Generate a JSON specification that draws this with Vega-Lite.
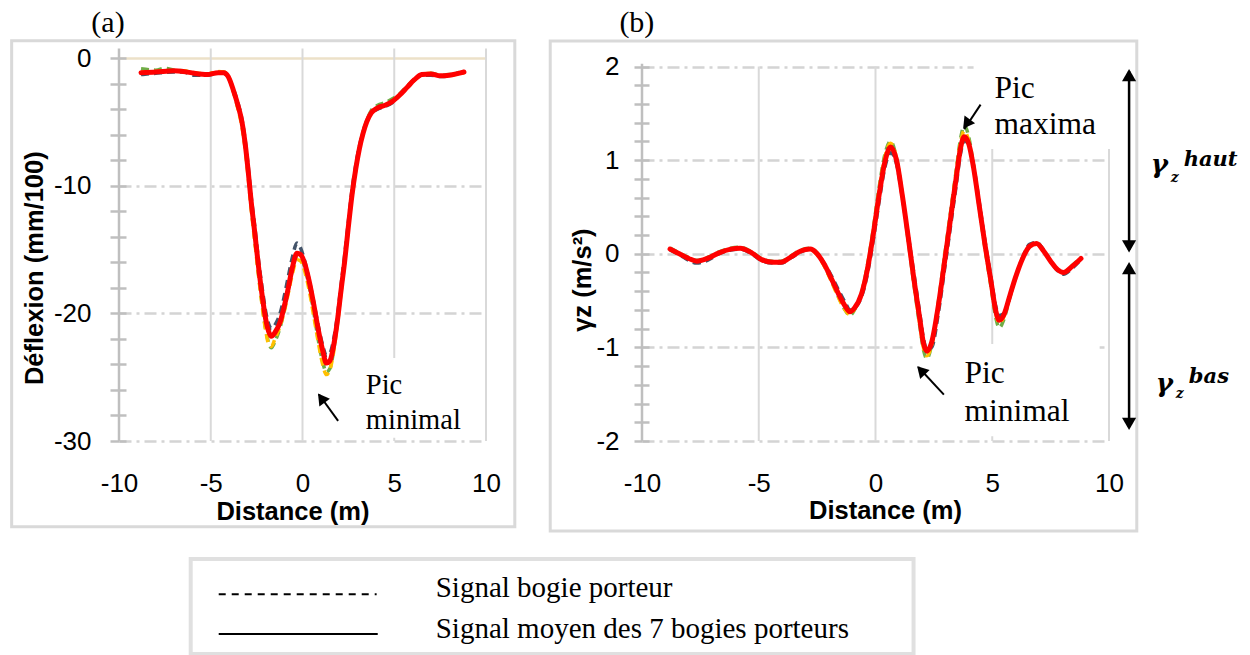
{
  "$schema": "https://vega.github.io/schema/vega-lite/v6.json",
  "background": "white",
  "padding": {"left": 10, "top": 8, "right": 5, "bottom": 0},
  "bounds": "flush",
  "align": "each",
  "columns": 2,
  "spacing": {"row": 118, "column": 156},
  "config": {"view": {"stroke": null}, "font": "Liberation Sans"},
  "datasets": {
    "a": [
      {"s":"n","x":-8.8,"y":-1.3},{"s":"n","x":-8.0,"y":-1.2},{"s":"n","x":-7.0,"y":-1.1},{"s":"n","x":-6.5,"y":-1.1},{"s":"n","x":-5.9,"y":-1.35},{"s":"n","x":-5.2,"y":-1.35},{"s":"n","x":-4.6,"y":-1.2},{"s":"n","x":-4.3,"y":-1.2},{"s":"n","x":-4.05,"y":-1.5},{"s":"n","x":-3.75,"y":-2.5},{"s":"n","x":-3.5,"y":-3.6},{"s":"n","x":-3.3,"y":-4.8},{"s":"n","x":-3.1,"y":-6.7},{"s":"n","x":-2.95,"y":-8.6},{"s":"n","x":-2.8,"y":-10.8},{"s":"n","x":-2.6,"y":-13.2},{"s":"n","x":-2.4,"y":-15.8},{"s":"n","x":-2.2,"y":-18.0},{"s":"n","x":-2.0,"y":-19.9},{"s":"n","x":-1.85,"y":-20.8},{"s":"n","x":-1.7,"y":-21.2},{"s":"n","x":-1.5,"y":-20.9},{"s":"n","x":-1.2,"y":-19.9},{"s":"n","x":-1.0,"y":-18.7},{"s":"n","x":-0.8,"y":-17.3},{"s":"n","x":-0.55,"y":-15.6},{"s":"n","x":-0.3,"y":-14.5},{"s":"n","x":-0.1,"y":-14.9},{"s":"n","x":0.1,"y":-15.8},{"s":"n","x":0.35,"y":-17.3},{"s":"n","x":0.6,"y":-19.0},{"s":"n","x":0.85,"y":-20.9},{"s":"n","x":1.1,"y":-22.5},{"s":"n","x":1.3,"y":-23.3},{"s":"n","x":1.5,"y":-23.1},{"s":"n","x":1.7,"y":-22.0},{"s":"n","x":1.9,"y":-20.2},{"s":"n","x":2.1,"y":-17.8},{"s":"n","x":2.3,"y":-15.4},{"s":"n","x":2.5,"y":-12.8},{"s":"n","x":2.7,"y":-10.3},{"s":"n","x":2.9,"y":-8.4},{"s":"n","x":3.1,"y":-6.9},{"s":"n","x":3.3,"y":-5.8},{"s":"n","x":3.5,"y":-4.9},{"s":"n","x":3.75,"y":-4.3},{"s":"n","x":4.1,"y":-4.0},{"s":"n","x":4.5,"y":-3.8},{"s":"n","x":4.9,"y":-3.5},{"s":"n","x":5.3,"y":-2.9},{"s":"n","x":5.7,"y":-2.3},{"s":"n","x":6.1,"y":-1.7},{"s":"n","x":6.5,"y":-1.35},{"s":"n","x":7.0,"y":-1.35},{"s":"n","x":7.5,"y":-1.45},{"s":"n","x":8.0,"y":-1.4},{"s":"n","x":8.5,"y":-1.15},{"s":"n","x":8.8,"y":-1.0},
      {"s":"g","x":-8.8,"y":-0.85},{"s":"g","x":-8.0,"y":-0.95},{"s":"g","x":-7.5,"y":-0.8},{"s":"g","x":-7.0,"y":-0.95},{"s":"g","x":-6.5,"y":-1.0},{"s":"g","x":-5.9,"y":-1.2},{"s":"g","x":-5.2,"y":-1.25},{"s":"g","x":-4.6,"y":-1.1},{"s":"g","x":-4.3,"y":-1.1},{"s":"g","x":-4.05,"y":-1.45},{"s":"g","x":-3.75,"y":-2.7},{"s":"g","x":-3.5,"y":-4.0},{"s":"g","x":-3.3,"y":-5.2},{"s":"g","x":-3.1,"y":-7.3},{"s":"g","x":-2.95,"y":-9.3},{"s":"g","x":-2.8,"y":-11.6},{"s":"g","x":-2.6,"y":-14.2},{"s":"g","x":-2.4,"y":-16.9},{"s":"g","x":-2.2,"y":-19.3},{"s":"g","x":-2.0,"y":-21.3},{"s":"g","x":-1.85,"y":-22.3},{"s":"g","x":-1.7,"y":-22.7},{"s":"g","x":-1.5,"y":-22.2},{"s":"g","x":-1.2,"y":-21.0},{"s":"g","x":-1.0,"y":-19.8},{"s":"g","x":-0.8,"y":-18.4},{"s":"g","x":-0.55,"y":-16.6},{"s":"g","x":-0.3,"y":-15.5},{"s":"g","x":-0.1,"y":-15.6},{"s":"g","x":0.1,"y":-16.3},{"s":"g","x":0.35,"y":-17.8},{"s":"g","x":0.6,"y":-19.8},{"s":"g","x":0.85,"y":-22.0},{"s":"g","x":1.1,"y":-23.8},{"s":"g","x":1.3,"y":-24.6},{"s":"g","x":1.5,"y":-24.3},{"s":"g","x":1.7,"y":-22.9},{"s":"g","x":1.9,"y":-20.8},{"s":"g","x":2.1,"y":-18.3},{"s":"g","x":2.3,"y":-15.9},{"s":"g","x":2.5,"y":-13.2},{"s":"g","x":2.7,"y":-10.6},{"s":"g","x":2.9,"y":-8.6},{"s":"g","x":3.1,"y":-7.0},{"s":"g","x":3.3,"y":-5.8},{"s":"g","x":3.5,"y":-4.9},{"s":"g","x":3.75,"y":-4.1},{"s":"g","x":4.1,"y":-3.7},{"s":"g","x":4.5,"y":-3.5},{"s":"g","x":4.9,"y":-3.2},{"s":"g","x":5.3,"y":-2.8},{"s":"g","x":5.7,"y":-2.2},{"s":"g","x":6.1,"y":-1.65},{"s":"g","x":6.5,"y":-1.3},{"s":"g","x":7.0,"y":-1.2},{"s":"g","x":7.5,"y":-1.35},{"s":"g","x":8.0,"y":-1.3},{"s":"g","x":8.5,"y":-1.2},{"s":"g","x":8.8,"y":-1.1},
      {"s":"o","x":-8.8,"y":-1.1},{"s":"o","x":-8.0,"y":-1.05},{"s":"o","x":-7.0,"y":-1.0},{"s":"o","x":-6.5,"y":-1.0},{"s":"o","x":-5.9,"y":-1.15},{"s":"o","x":-5.2,"y":-1.25},{"s":"o","x":-4.6,"y":-1.05},{"s":"o","x":-4.3,"y":-1.1},{"s":"o","x":-4.05,"y":-1.4},{"s":"o","x":-3.75,"y":-2.7},{"s":"o","x":-3.5,"y":-4.1},{"s":"o","x":-3.3,"y":-5.4},{"s":"o","x":-3.1,"y":-7.4},{"s":"o","x":-2.95,"y":-9.5},{"s":"o","x":-2.8,"y":-11.8},{"s":"o","x":-2.6,"y":-14.4},{"s":"o","x":-2.4,"y":-17.0},{"s":"o","x":-2.2,"y":-19.4},{"s":"o","x":-2.0,"y":-21.4},{"s":"o","x":-1.85,"y":-22.4},{"s":"o","x":-1.7,"y":-22.6},{"s":"o","x":-1.5,"y":-22.0},{"s":"o","x":-1.2,"y":-20.9},{"s":"o","x":-1.0,"y":-19.9},{"s":"o","x":-0.8,"y":-18.6},{"s":"o","x":-0.55,"y":-16.9},{"s":"o","x":-0.3,"y":-15.8},{"s":"o","x":-0.1,"y":-15.9},{"s":"o","x":0.1,"y":-16.6},{"s":"o","x":0.35,"y":-18.1},{"s":"o","x":0.6,"y":-20.1},{"s":"o","x":0.85,"y":-22.2},{"s":"o","x":1.1,"y":-24.0},{"s":"o","x":1.3,"y":-24.8},{"s":"o","x":1.5,"y":-24.4},{"s":"o","x":1.7,"y":-23.0},{"s":"o","x":1.9,"y":-20.9},{"s":"o","x":2.1,"y":-18.4},{"s":"o","x":2.3,"y":-16.0},{"s":"o","x":2.5,"y":-13.3},{"s":"o","x":2.7,"y":-10.8},{"s":"o","x":2.9,"y":-8.8},{"s":"o","x":3.1,"y":-7.1},{"s":"o","x":3.3,"y":-5.9},{"s":"o","x":3.5,"y":-5.0},{"s":"o","x":3.75,"y":-4.3},{"s":"o","x":4.1,"y":-3.9},{"s":"o","x":4.5,"y":-3.7},{"s":"o","x":4.9,"y":-3.4},{"s":"o","x":5.3,"y":-2.9},{"s":"o","x":5.7,"y":-2.3},{"s":"o","x":6.1,"y":-1.75},{"s":"o","x":6.5,"y":-1.3},{"s":"o","x":7.0,"y":-1.2},{"s":"o","x":7.5,"y":-1.4},{"s":"o","x":8.0,"y":-1.35},{"s":"o","x":8.5,"y":-1.25},{"s":"o","x":8.8,"y":-1.15},
      {"s":"m","x":-8.8,"y":-1.15},{"s":"m","x":-8.0,"y":-1.1},{"s":"m","x":-7.0,"y":-1.0},{"s":"m","x":-6.5,"y":-1.05},{"s":"m","x":-5.9,"y":-1.2},{"s":"m","x":-5.2,"y":-1.3},{"s":"m","x":-4.6,"y":-1.15},{"s":"m","x":-4.3,"y":-1.15},{"s":"m","x":-4.05,"y":-1.45},{"s":"m","x":-3.75,"y":-2.6},{"s":"m","x":-3.5,"y":-3.8},{"s":"m","x":-3.3,"y":-5.0},{"s":"m","x":-3.1,"y":-7.0},{"s":"m","x":-2.95,"y":-9.0},{"s":"m","x":-2.8,"y":-11.2},{"s":"m","x":-2.6,"y":-13.7},{"s":"m","x":-2.4,"y":-16.3},{"s":"m","x":-2.2,"y":-18.6},{"s":"m","x":-2.0,"y":-20.5},{"s":"m","x":-1.85,"y":-21.4},{"s":"m","x":-1.7,"y":-21.8},{"s":"m","x":-1.5,"y":-21.5},{"s":"m","x":-1.2,"y":-20.6},{"s":"m","x":-1.0,"y":-19.5},{"s":"m","x":-0.8,"y":-18.2},{"s":"m","x":-0.55,"y":-16.4},{"s":"m","x":-0.3,"y":-15.3},{"s":"m","x":-0.1,"y":-15.4},{"s":"m","x":0.1,"y":-16.0},{"s":"m","x":0.35,"y":-17.4},{"s":"m","x":0.6,"y":-19.2},{"s":"m","x":0.85,"y":-21.2},{"s":"m","x":1.1,"y":-22.9},{"s":"m","x":1.3,"y":-23.9},{"s":"m","x":1.5,"y":-23.7},{"s":"m","x":1.7,"y":-22.5},{"s":"m","x":1.9,"y":-20.6},{"s":"m","x":2.1,"y":-18.2},{"s":"m","x":2.3,"y":-15.9},{"s":"m","x":2.5,"y":-13.2},{"s":"m","x":2.7,"y":-10.7},{"s":"m","x":2.9,"y":-8.7},{"s":"m","x":3.1,"y":-7.1},{"s":"m","x":3.3,"y":-5.9},{"s":"m","x":3.5,"y":-5.0},{"s":"m","x":3.75,"y":-4.3},{"s":"m","x":4.1,"y":-3.9},{"s":"m","x":4.5,"y":-3.7},{"s":"m","x":4.9,"y":-3.4},{"s":"m","x":5.3,"y":-2.9},{"s":"m","x":5.7,"y":-2.3},{"s":"m","x":6.1,"y":-1.7},{"s":"m","x":6.5,"y":-1.3},{"s":"m","x":7.0,"y":-1.25},{"s":"m","x":7.5,"y":-1.4},{"s":"m","x":8.0,"y":-1.35},{"s":"m","x":8.5,"y":-1.2},{"s":"m","x":8.8,"y":-1.1}
    ],
    "b": [
      {"s":"n","x":-8.8,"y":0.04},{"s":"n","x":-8.4,"y":-0.01},{"s":"n","x":-8.0,"y":-0.07},{"s":"n","x":-7.65,"y":-0.1},{"s":"n","x":-7.2,"y":-0.07},{"s":"n","x":-6.7,"y":0.0},{"s":"n","x":-6.2,"y":0.04},{"s":"n","x":-5.8,"y":0.05},{"s":"n","x":-5.3,"y":0.0},{"s":"n","x":-4.9,"y":-0.07},{"s":"n","x":-4.4,"y":-0.1},{"s":"n","x":-4.05,"y":-0.1},{"s":"n","x":-3.6,"y":-0.04},{"s":"n","x":-3.2,"y":0.02},{"s":"n","x":-2.8,"y":0.05},{"s":"n","x":-2.5,"y":0.0},{"s":"n","x":-2.2,"y":-0.1},{"s":"n","x":-1.9,"y":-0.23},{"s":"n","x":-1.6,"y":-0.38},{"s":"n","x":-1.3,"y":-0.52},{"s":"n","x":-1.1,"y":-0.6},{"s":"n","x":-0.9,"y":-0.58},{"s":"n","x":-0.6,"y":-0.46},{"s":"n","x":-0.35,"y":-0.22},{"s":"n","x":-0.1,"y":0.14},{"s":"n","x":0.15,"y":0.55},{"s":"n","x":0.4,"y":0.92},{"s":"n","x":0.65,"y":1.08},{"s":"n","x":0.9,"y":0.96},{"s":"n","x":1.15,"y":0.6},{"s":"n","x":1.4,"y":0.2},{"s":"n","x":1.65,"y":-0.22},{"s":"n","x":1.9,"y":-0.64},{"s":"n","x":2.05,"y":-0.9},{"s":"n","x":2.2,"y":-1.02},{"s":"n","x":2.4,"y":-1.0},{"s":"n","x":2.7,"y":-0.62},{"s":"n","x":2.95,"y":-0.18},{"s":"n","x":3.2,"y":0.27},{"s":"n","x":3.45,"y":0.72},{"s":"n","x":3.65,"y":1.08},{"s":"n","x":3.8,"y":1.21},{"s":"n","x":4.0,"y":1.16},{"s":"n","x":4.2,"y":0.94},{"s":"n","x":4.45,"y":0.54},{"s":"n","x":4.7,"y":0.12},{"s":"n","x":4.95,"y":-0.26},{"s":"n","x":5.15,"y":-0.56},{"s":"n","x":5.3,"y":-0.66},{"s":"n","x":5.5,"y":-0.64},{"s":"n","x":5.75,"y":-0.46},{"s":"n","x":6.0,"y":-0.25},{"s":"n","x":6.3,"y":-0.04},{"s":"n","x":6.6,"y":0.1},{"s":"n","x":6.9,"y":0.12},{"s":"n","x":7.2,"y":0.04},{"s":"n","x":7.5,"y":-0.08},{"s":"n","x":7.8,"y":-0.18},{"s":"n","x":8.05,"y":-0.22},{"s":"n","x":8.4,"y":-0.16},{"s":"n","x":8.8,"y":-0.06},
      {"s":"g","x":-8.8,"y":0.06},{"s":"g","x":-8.4,"y":0.01},{"s":"g","x":-8.0,"y":-0.04},{"s":"g","x":-7.65,"y":-0.07},{"s":"g","x":-7.2,"y":-0.04},{"s":"g","x":-6.7,"y":0.02},{"s":"g","x":-6.2,"y":0.06},{"s":"g","x":-5.8,"y":0.07},{"s":"g","x":-5.3,"y":0.02},{"s":"g","x":-4.9,"y":-0.05},{"s":"g","x":-4.4,"y":-0.08},{"s":"g","x":-4.05,"y":-0.08},{"s":"g","x":-3.6,"y":-0.02},{"s":"g","x":-3.2,"y":0.04},{"s":"g","x":-2.8,"y":0.06},{"s":"g","x":-2.5,"y":0.01},{"s":"g","x":-2.2,"y":-0.12},{"s":"g","x":-1.9,"y":-0.28},{"s":"g","x":-1.6,"y":-0.45},{"s":"g","x":-1.3,"y":-0.6},{"s":"g","x":-1.1,"y":-0.66},{"s":"g","x":-0.9,"y":-0.6},{"s":"g","x":-0.6,"y":-0.42},{"s":"g","x":-0.35,"y":-0.13},{"s":"g","x":-0.1,"y":0.26},{"s":"g","x":0.15,"y":0.7},{"s":"g","x":0.4,"y":1.06},{"s":"g","x":0.65,"y":1.2},{"s":"g","x":0.9,"y":1.02},{"s":"g","x":1.15,"y":0.62},{"s":"g","x":1.4,"y":0.14},{"s":"g","x":1.65,"y":-0.34},{"s":"g","x":1.9,"y":-0.78},{"s":"g","x":2.05,"y":-1.02},{"s":"g","x":2.2,"y":-1.12},{"s":"g","x":2.4,"y":-0.98},{"s":"g","x":2.7,"y":-0.5},{"s":"g","x":2.95,"y":-0.04},{"s":"g","x":3.2,"y":0.42},{"s":"g","x":3.45,"y":0.88},{"s":"g","x":3.65,"y":1.24},{"s":"g","x":3.8,"y":1.37},{"s":"g","x":4.0,"y":1.24},{"s":"g","x":4.2,"y":0.94},{"s":"g","x":4.45,"y":0.48},{"s":"g","x":4.7,"y":0.04},{"s":"g","x":4.95,"y":-0.36},{"s":"g","x":5.15,"y":-0.68},{"s":"g","x":5.3,"y":-0.79},{"s":"g","x":5.5,"y":-0.7},{"s":"g","x":5.75,"y":-0.47},{"s":"g","x":6.0,"y":-0.25},{"s":"g","x":6.3,"y":-0.05},{"s":"g","x":6.6,"y":0.08},{"s":"g","x":6.9,"y":0.11},{"s":"g","x":7.2,"y":0.03},{"s":"g","x":7.5,"y":-0.08},{"s":"g","x":7.8,"y":-0.17},{"s":"g","x":8.05,"y":-0.2},{"s":"g","x":8.4,"y":-0.13},{"s":"g","x":8.8,"y":-0.04},
      {"s":"o","x":-8.8,"y":0.05},{"s":"o","x":-8.4,"y":0.0},{"s":"o","x":-8.0,"y":-0.05},{"s":"o","x":-7.65,"y":-0.08},{"s":"o","x":-7.2,"y":-0.05},{"s":"o","x":-6.7,"y":0.01},{"s":"o","x":-6.2,"y":0.05},{"s":"o","x":-5.8,"y":0.06},{"s":"o","x":-5.3,"y":0.01},{"s":"o","x":-4.9,"y":-0.06},{"s":"o","x":-4.4,"y":-0.09},{"s":"o","x":-4.05,"y":-0.09},{"s":"o","x":-3.6,"y":-0.03},{"s":"o","x":-3.2,"y":0.03},{"s":"o","x":-2.8,"y":0.05},{"s":"o","x":-2.5,"y":-0.01},{"s":"o","x":-2.2,"y":-0.13},{"s":"o","x":-1.9,"y":-0.29},{"s":"o","x":-1.6,"y":-0.46},{"s":"o","x":-1.3,"y":-0.6},{"s":"o","x":-1.1,"y":-0.65},{"s":"o","x":-0.9,"y":-0.59},{"s":"o","x":-0.6,"y":-0.42},{"s":"o","x":-0.35,"y":-0.14},{"s":"o","x":-0.1,"y":0.24},{"s":"o","x":0.15,"y":0.67},{"s":"o","x":0.4,"y":1.03},{"s":"o","x":0.65,"y":1.18},{"s":"o","x":0.9,"y":1.02},{"s":"o","x":1.15,"y":0.63},{"s":"o","x":1.4,"y":0.16},{"s":"o","x":1.65,"y":-0.32},{"s":"o","x":1.9,"y":-0.76},{"s":"o","x":2.05,"y":-1.0},{"s":"o","x":2.2,"y":-1.09},{"s":"o","x":2.4,"y":-0.98},{"s":"o","x":2.7,"y":-0.52},{"s":"o","x":2.95,"y":-0.06},{"s":"o","x":3.2,"y":0.4},{"s":"o","x":3.45,"y":0.86},{"s":"o","x":3.65,"y":1.2},{"s":"o","x":3.8,"y":1.31},{"s":"o","x":4.0,"y":1.2},{"s":"o","x":4.2,"y":0.92},{"s":"o","x":4.45,"y":0.48},{"s":"o","x":4.7,"y":0.05},{"s":"o","x":4.95,"y":-0.34},{"s":"o","x":5.15,"y":-0.64},{"s":"o","x":5.3,"y":-0.74},{"s":"o","x":5.5,"y":-0.67},{"s":"o","x":5.75,"y":-0.46},{"s":"o","x":6.0,"y":-0.25},{"s":"o","x":6.3,"y":-0.05},{"s":"o","x":6.6,"y":0.08},{"s":"o","x":6.9,"y":0.11},{"s":"o","x":7.2,"y":0.03},{"s":"o","x":7.5,"y":-0.08},{"s":"o","x":7.8,"y":-0.17},{"s":"o","x":8.05,"y":-0.2},{"s":"o","x":8.4,"y":-0.14},{"s":"o","x":8.8,"y":-0.05},
      {"s":"m","x":-8.8,"y":0.05},{"s":"m","x":-8.4,"y":0.0},{"s":"m","x":-8.0,"y":-0.05},{"s":"m","x":-7.65,"y":-0.08},{"s":"m","x":-7.2,"y":-0.05},{"s":"m","x":-6.7,"y":0.01},{"s":"m","x":-6.2,"y":0.05},{"s":"m","x":-5.8,"y":0.06},{"s":"m","x":-5.3,"y":0.01},{"s":"m","x":-4.9,"y":-0.06},{"s":"m","x":-4.4,"y":-0.09},{"s":"m","x":-4.05,"y":-0.09},{"s":"m","x":-3.6,"y":-0.03},{"s":"m","x":-3.2,"y":0.03},{"s":"m","x":-2.8,"y":0.05},{"s":"m","x":-2.5,"y":0.0},{"s":"m","x":-2.2,"y":-0.11},{"s":"m","x":-1.9,"y":-0.26},{"s":"m","x":-1.6,"y":-0.42},{"s":"m","x":-1.3,"y":-0.56},{"s":"m","x":-1.1,"y":-0.62},{"s":"m","x":-0.9,"y":-0.58},{"s":"m","x":-0.6,"y":-0.43},{"s":"m","x":-0.35,"y":-0.17},{"s":"m","x":-0.1,"y":0.2},{"s":"m","x":0.15,"y":0.62},{"s":"m","x":0.4,"y":0.98},{"s":"m","x":0.65,"y":1.14},{"s":"m","x":0.9,"y":1.0},{"s":"m","x":1.15,"y":0.62},{"s":"m","x":1.4,"y":0.18},{"s":"m","x":1.65,"y":-0.28},{"s":"m","x":1.9,"y":-0.7},{"s":"m","x":2.05,"y":-0.95},{"s":"m","x":2.2,"y":-1.04},{"s":"m","x":2.4,"y":-0.95},{"s":"m","x":2.7,"y":-0.54},{"s":"m","x":2.95,"y":-0.1},{"s":"m","x":3.2,"y":0.35},{"s":"m","x":3.45,"y":0.8},{"s":"m","x":3.65,"y":1.14},{"s":"m","x":3.8,"y":1.25},{"s":"m","x":4.0,"y":1.17},{"s":"m","x":4.2,"y":0.92},{"s":"m","x":4.45,"y":0.5},{"s":"m","x":4.7,"y":0.08},{"s":"m","x":4.95,"y":-0.3},{"s":"m","x":5.15,"y":-0.61},{"s":"m","x":5.3,"y":-0.71},{"s":"m","x":5.5,"y":-0.65},{"s":"m","x":5.75,"y":-0.45},{"s":"m","x":6.0,"y":-0.25},{"s":"m","x":6.3,"y":-0.05},{"s":"m","x":6.6,"y":0.08},{"s":"m","x":6.9,"y":0.11},{"s":"m","x":7.2,"y":0.03},{"s":"m","x":7.5,"y":-0.08},{"s":"m","x":7.8,"y":-0.17},{"s":"m","x":8.05,"y":-0.2},{"s":"m","x":8.4,"y":-0.14},{"s":"m","x":8.8,"y":-0.05}
    ],
    "boxA": [{"x1":-15.85,"x2":11.57,"y1":1.35,"y2":-36.72}],
    "gridA": [{"x1":-5,"y1":0.75,"y2":-30},{"x1":0,"y1":0.75,"y2":-30},{"x1":5,"y1":0.75,"y2":-30},{"x1":10,"y1":0.75,"y2":-30}],
    "axisA": [{"x1":-10,"y1":0.75,"y2":-30}],
    "maskA": [{"x1":3.18,"x2":9.7,"y1":-23.5,"y2":-29.75}],
    "labA": [{"t":"(a)","x":-10.6,"y":2.01}],
    "picA": [{"t":"Pic","x":3.45,"y":-26.31},{"t":"minimal","x":3.45,"y":-29.05}],
    "arrA": [{"x1":1.94,"y1":-28.43,"x2":0.9,"y2":-26.36}],
    "headA": [{"x":1.025,"y":-26.64}],
    "boxB": [{"x1":-13.93,"x2":11.19,"y1":2.272,"y2":-2.962}],
    "gridB": [{"x1":-5,"y1":2,"y2":-2},{"x1":0,"y1":2,"y2":-2},{"x1":5,"y1":2,"y2":-2},{"x1":10,"y1":2,"y2":-2}],
    "axisB": [{"x1":-10,"y1":2.03,"y2":-2}],
    "maskB": [{"x1":4.2,"x2":10.16,"y1":1.12,"y2":2.2},{"x1":1.63,"x2":9.6,"y1":-0.965,"y2":-1.95}],
    "labB": [{"t":"(b)","x":-10.22,"y":2.365}],
    "picB": [{"t":"Pic","x":5.1,"y":1.665},{"t":"maxima","x":5.1,"y":1.284},{"t":"Pic","x":3.815,"y":-1.381},{"t":"minimal","x":3.815,"y":-1.783}],
    "arrB": [{"x1":4.5,"y1":1.593,"x2":3.8,"y2":1.33},{"x1":2.928,"y1":-1.504,"x2":1.83,"y2":-1.21}],
    "headB1": [{"x":3.896,"y":1.386}],
    "headB2": [{"x":1.95,"y":-1.245}],
    "vArr": [{"x1":10.86,"y1":1.95,"y2":0.04},{"x1":10.86,"y1":-0.12,"y2":-1.85}],
    "upHead": [{"x":10.86,"y":1.909},{"x":10.86,"y":-0.153}],
    "downHead": [{"x":10.86,"y":0.078},{"x":10.86,"y":-1.817}],
    "gam": [{"t":"γ","x":11.79,"y":0.862},{"t":"γ","x":12.0,"y":-1.477}],
    "zsub": [{"t":"z","x":12.64,"y":0.766},{"t":"z","x":12.86,"y":-1.541}],
    "sup": [{"t":"haut","x":13.2,"y":0.939},{"t":"bas","x":13.42,"y":-1.384}],
    "legBox": [{"x1":19.54,"x2":216.5,"y1":0,"y2":100}],
    "legDash": [{"x1":27.17,"x2":70.2,"y":62.8}],
    "legSolid": [{"x1":27.17,"x2":70.5,"y":21.05}],
    "legText": [{"t":"Signal bogie porteur","x":86.3,"y":60.0},{"t":"Signal moyen des 7 bogies porteurs","x":86.3,"y":17.2}]
  },
  "concat": [
    {
      "width": 367,
      "height": 383,
      "resolve": {"axis": {"x": "independent", "y": "independent"}},
      "layer": [
        {
          "data": {"name": "boxA"},
          "mark": {"type": "rect", "filled": false, "color": "#d9d9d9", "strokeWidth": 3},
          "encoding": {
            "x": {"field": "x1", "type": "quantitative", "scale": {"domain": [-10, 10], "nice": false, "zero": false}, "axis": null},
            "x2": {"field": "x2"},
            "y": {"field": "y1", "type": "quantitative", "scale": {"domain": [-30, 0], "nice": false, "zero": false}, "axis": null},
            "y2": {"field": "y2"}
          }
        },
        {
          "data": {"name": "gridA"},
          "mark": {"type": "rule", "color": "#d9d9d9", "strokeWidth": 2},
          "encoding": {
            "x": {"field": "x1", "type": "quantitative", "scale": {"domain": [-10, 10], "nice": false, "zero": false}, "axis": null},
            "y": {"field": "y1", "type": "quantitative", "scale": {"domain": [-30, 0], "nice": false, "zero": false}, "axis": null},
            "y2": {"field": "y2"}
          }
        },
        {
          "data": {"name": "maskA"},
          "mark": {"type": "rect", "color": "white", "opacity": 1},
          "encoding": {
            "x": {"field": "x1", "type": "quantitative", "scale": {"domain": [-10, 10], "nice": false, "zero": false}, "axis": null},
            "x2": {"field": "x2"},
            "y": {"field": "y1", "type": "quantitative", "scale": {"domain": [-30, 0], "nice": false, "zero": false}, "axis": null},
            "y2": {"field": "y2"}
          }
        },
        {
          "data": {"name": "axisA"},
          "mark": {"type": "rule", "color": "#bfbfbf", "strokeWidth": 2.5},
          "encoding": {
            "x": {"field": "x1", "type": "quantitative", "scale": {"domain": [-10, 10], "nice": false, "zero": false}, "axis": null},
            "y": {"field": "y1", "type": "quantitative", "scale": {"domain": [-30, 0], "nice": false, "zero": false}, "axis": null},
            "y2": {"field": "y2"}
          }
        },
        {
          "data": {"name": "a"},
          "transform": [{"filter": "datum.s !== 'm'"}],
          "mark": {"type": "line", "interpolate": "monotone", "strokeWidth": 3.5, "strokeDash": [8, 5]},
          "encoding": {
            "x": {"field": "x", "type": "quantitative", "scale": {"domain": [-10, 10], "nice": false, "zero": false},
              "axis": {"orient": "bottom", "values": [-10, -5, 0, 5, 10], "labelExpr": "replace(datum.label, '\u2212', '-')", "domain": false, "ticks": false, "tickSize": 0, "labelPadding": 29, "labelFont": "Liberation Sans", "labelFontSize": 26, "labelColor": "#000000", "labelFlush": false, "labelOverlap": false, "grid": false, "title": "Distance (m)", "titleFont": "Liberation Sans", "titleFontSize": 25.5, "titleFontWeight": "bold", "titleColor": "#000000", "titleX": 173.4, "titleY": 78, "titleBaseline": "alphabetic"}},
            "y": {"field": "y", "type": "quantitative", "scale": {"domain": [-30, 0], "nice": false, "zero": false},
              "axis": {"orient": "left", "values": [-30, -28, -26, -24, -22, -20, -18, -16, -14, -12, -10, -8, -6, -4, -2, 0], "labelExpr": "datum.value % 10 === 0 ? replace(datum.label, '\u2212', '-') : ''", "labelFont": "Liberation Sans", "labelFontSize": 26, "labelColor": "#000000", "labelPadding": 19, "labelOverlap": false, "tickSize": 9, "tickColor": "#bfbfbf", "tickWidth": 2.5, "domain": false, "grid": true,
                "gridColor": {"condition": {"test": "datum.value === 0", "value": "#ece1c8"}, "value": "#d4d4d4"},
                "gridDash": {"condition": {"test": "datum.value === 0", "value": []}, "value": [12, 5, 3, 5]},
                "gridOpacity": {"condition": {"test": "datum.value % 10 === 0", "value": 1}, "value": 0},
                "gridWidth": 2.5, "title": "Déflexion (mm/100)", "titleFont": "Liberation Sans", "titleFontSize": 25.5, "titleFontWeight": "bold", "titleColor": "#000000", "titleX": -76.6, "titleY": 209.7, "titleBaseline": "alphabetic", "titleAngle": 270}},
            "color": {"field": "s", "type": "nominal", "scale": {"domain": ["n", "g", "o"], "range": ["#44546a", "#70ad47", "#ffc000"]}, "legend": null}
          }
        },
        {
          "data": {"name": "a"},
          "transform": [{"filter": "datum.s === 'm'"}],
          "mark": {"type": "line", "interpolate": "monotone", "color": "#ff0000", "strokeWidth": 5, "strokeCap": "round"},
          "encoding": {
            "x": {"field": "x", "type": "quantitative", "scale": {"domain": [-10, 10], "nice": false, "zero": false}, "axis": null},
            "y": {"field": "y", "type": "quantitative", "scale": {"domain": [-30, 0], "nice": false, "zero": false},
              "axis": {"orient": "left", "offset": -7, "values": [-30, -28, -26, -24, -22, -20, -18, -16, -14, -12, -10, -8, -6, -4, -2, 0], "domain": false, "labels": false, "grid": false, "ticks": true, "tickSize": 7, "tickColor": "#bfbfbf", "tickWidth": 2.5, "title": null}}
          }
        },
        {
          "data": {"name": "arrA"},
          "mark": {"type": "rule", "color": "black", "strokeWidth": 2},
          "encoding": {
            "x": {"field": "x1", "type": "quantitative", "scale": {"domain": [-10, 10], "nice": false, "zero": false}, "axis": null},
            "x2": {"field": "x2"},
            "y": {"field": "y1", "type": "quantitative", "scale": {"domain": [-30, 0], "nice": false, "zero": false}, "axis": null},
            "y2": {"field": "y2"}
          }
        },
        {
          "data": {"name": "headA"},
          "mark": {"type": "point", "shape": "triangle-up", "filled": true, "color": "black", "size": 170, "angle": 323.8, "opacity": 1},
          "encoding": {
            "x": {"field": "x", "type": "quantitative", "scale": {"domain": [-10, 10], "nice": false, "zero": false}, "axis": null},
            "y": {"field": "y", "type": "quantitative", "scale": {"domain": [-30, 0], "nice": false, "zero": false}, "axis": null}
          }
        },
        {
          "data": {"name": "labA"},
          "mark": {"type": "text", "font": "Liberation Serif", "fontSize": 30, "align": "center", "baseline": "alphabetic", "color": "black"},
          "encoding": {
            "x": {"field": "x", "type": "quantitative", "scale": {"domain": [-10, 10], "nice": false, "zero": false}, "axis": null},
            "y": {"field": "y", "type": "quantitative", "scale": {"domain": [-30, 0], "nice": false, "zero": false}, "axis": null},
            "text": {"field": "t"}
          }
        },
        {
          "data": {"name": "picA"},
          "mark": {"type": "text", "font": "Liberation Serif", "fontSize": 28.5, "align": "left", "baseline": "alphabetic", "color": "black"},
          "encoding": {
            "x": {"field": "x", "type": "quantitative", "scale": {"domain": [-10, 10], "nice": false, "zero": false}, "axis": null},
            "y": {"field": "y", "type": "quantitative", "scale": {"domain": [-30, 0], "nice": false, "zero": false}, "axis": null},
            "text": {"field": "t"}
          }
        }
      ]
    },
    {
      "width": 467,
      "height": 383,
      "resolve": {"axis": {"x": "independent", "y": "independent"}},
      "layer": [
        {
          "data": {"name": "boxB"},
          "mark": {"type": "rect", "filled": false, "color": "#d9d9d9", "strokeWidth": 3},
          "encoding": {
            "x": {"field": "x1", "type": "quantitative", "scale": {"domain": [-10, 10], "nice": false, "zero": false}, "axis": null},
            "x2": {"field": "x2"},
            "y": {"field": "y1", "type": "quantitative", "scale": {"domain": [-2, 2.091], "nice": false, "zero": false}, "axis": null},
            "y2": {"field": "y2"}
          }
        },
        {
          "data": {"name": "gridB"},
          "mark": {"type": "rule", "color": "#d9d9d9", "strokeWidth": 2},
          "encoding": {
            "x": {"field": "x1", "type": "quantitative", "scale": {"domain": [-10, 10], "nice": false, "zero": false}, "axis": null},
            "y": {"field": "y1", "type": "quantitative", "scale": {"domain": [-2, 2.091], "nice": false, "zero": false}, "axis": null},
            "y2": {"field": "y2"}
          }
        },
        {
          "data": {"name": "maskB"},
          "mark": {"type": "rect", "color": "white", "opacity": 1},
          "encoding": {
            "x": {"field": "x1", "type": "quantitative", "scale": {"domain": [-10, 10], "nice": false, "zero": false}, "axis": null},
            "x2": {"field": "x2"},
            "y": {"field": "y1", "type": "quantitative", "scale": {"domain": [-2, 2.091], "nice": false, "zero": false}, "axis": null},
            "y2": {"field": "y2"}
          }
        },
        {
          "data": {"name": "axisB"},
          "mark": {"type": "rule", "color": "#bfbfbf", "strokeWidth": 2.5},
          "encoding": {
            "x": {"field": "x1", "type": "quantitative", "scale": {"domain": [-10, 10], "nice": false, "zero": false}, "axis": null},
            "y": {"field": "y1", "type": "quantitative", "scale": {"domain": [-2, 2.091], "nice": false, "zero": false}, "axis": null},
            "y2": {"field": "y2"}
          }
        },
        {
          "data": {"name": "b"},
          "transform": [{"filter": "datum.s !== 'm'"}],
          "mark": {"type": "line", "interpolate": "monotone", "strokeWidth": 3.5, "strokeDash": [8, 5]},
          "encoding": {
            "x": {"field": "x", "type": "quantitative", "scale": {"domain": [-10, 10], "nice": false, "zero": false},
              "axis": {"orient": "bottom", "values": [-10, -5, 0, 5, 10], "labelExpr": "replace(datum.label, '\u2212', '-')", "domain": false, "ticks": false, "tickSize": 0, "labelPadding": 29, "labelFont": "Liberation Sans", "labelFontSize": 26, "labelColor": "#000000", "labelFlush": false, "labelOverlap": false, "grid": false, "title": "Distance (m)", "titleFont": "Liberation Sans", "titleFontSize": 25.5, "titleFontWeight": "bold", "titleColor": "#000000", "titleX": 243, "titleY": 77, "titleBaseline": "alphabetic"}},
            "y": {"field": "y", "type": "quantitative", "scale": {"domain": [-2, 2.091], "nice": false, "zero": false},
              "axis": {"orient": "left", "values": [-2, -1.8, -1.6, -1.4, -1.2, -1, -0.8, -0.6, -0.4, -0.2, 0, 0.2, 0.4, 0.6, 0.8, 1, 1.2, 1.4, 1.6, 1.8, 2], "labelExpr": "abs(datum.value - round(datum.value)) < 0.01 ? replace(format(datum.value, '.0f'), '\u2212', '-') : ''", "labelFont": "Liberation Sans", "labelFontSize": 26, "labelColor": "#000000", "labelPadding": 15, "labelOverlap": false, "tickSize": 8, "tickColor": "#bfbfbf", "tickWidth": 2.5, "domain": false, "grid": true,
                "gridColor": "#d4d4d4",
                "gridDash": [12, 5, 3, 5],
                "gridOpacity": {"condition": {"test": "abs(datum.value - round(datum.value)) < 0.01", "value": 1}, "value": 0},
                "gridWidth": 2.5, "title": "γz (m/s²)", "titleFont": "Liberation Sans", "titleFontSize": 25.5, "titleFontWeight": "bold", "titleColor": "#000000", "titleX": -51.7, "titleY": 221.6, "titleBaseline": "alphabetic", "titleAngle": 270}},
            "color": {"field": "s", "type": "nominal", "scale": {"domain": ["n", "g", "o"], "range": ["#44546a", "#70ad47", "#ffc000"]}, "legend": null}
          }
        },
        {
          "data": {"name": "b"},
          "transform": [{"filter": "datum.s === 'm'"}],
          "mark": {"type": "line", "interpolate": "monotone", "color": "#ff0000", "strokeWidth": 5, "strokeCap": "round"},
          "encoding": {
            "x": {"field": "x", "type": "quantitative", "scale": {"domain": [-10, 10], "nice": false, "zero": false}, "axis": null},
            "y": {"field": "y", "type": "quantitative", "scale": {"domain": [-2, 2.091], "nice": false, "zero": false},
              "axis": {"orient": "left", "offset": -7, "values": [-2, -1.8, -1.6, -1.4, -1.2, -1, -0.8, -0.6, -0.4, -0.2, 0, 0.2, 0.4, 0.6, 0.8, 1, 1.2, 1.4, 1.6, 1.8, 2], "domain": false, "labels": false, "grid": false, "ticks": true, "tickSize": 7, "tickColor": "#bfbfbf", "tickWidth": 2.5, "title": null}}
          }
        },
        {
          "data": {"name": "arrB"},
          "mark": {"type": "rule", "color": "black", "strokeWidth": 2},
          "encoding": {
            "x": {"field": "x1", "type": "quantitative", "scale": {"domain": [-10, 10], "nice": false, "zero": false}, "axis": null},
            "x2": {"field": "x2"},
            "y": {"field": "y1", "type": "quantitative", "scale": {"domain": [-2, 2.091], "nice": false, "zero": false}, "axis": null},
            "y2": {"field": "y2"}
          }
        },
        {
          "data": {"name": "vArr"},
          "mark": {"type": "rule", "color": "black", "strokeWidth": 2.5},
          "encoding": {
            "x": {"field": "x1", "type": "quantitative", "scale": {"domain": [-10, 10], "nice": false, "zero": false}, "axis": null},
            "y": {"field": "y1", "type": "quantitative", "scale": {"domain": [-2, 2.091], "nice": false, "zero": false}, "axis": null},
            "y2": {"field": "y2"}
          }
        },
        {
          "data": {"name": "headB1"},
          "mark": {"type": "point", "shape": "triangle-up", "filled": true, "color": "black", "size": 170, "angle": 216, "opacity": 1},
          "encoding": {
            "x": {"field": "x", "type": "quantitative", "scale": {"domain": [-10, 10], "nice": false, "zero": false}, "axis": null},
            "y": {"field": "y", "type": "quantitative", "scale": {"domain": [-2, 2.091], "nice": false, "zero": false}, "axis": null}
          }
        },
        {
          "data": {"name": "headB2"},
          "mark": {"type": "point", "shape": "triangle-up", "filled": true, "color": "black", "size": 170, "angle": 316.7, "opacity": 1},
          "encoding": {
            "x": {"field": "x", "type": "quantitative", "scale": {"domain": [-10, 10], "nice": false, "zero": false}, "axis": null},
            "y": {"field": "y", "type": "quantitative", "scale": {"domain": [-2, 2.091], "nice": false, "zero": false}, "axis": null}
          }
        },
        {
          "data": {"name": "upHead"},
          "mark": {"type": "point", "shape": "triangle-up", "filled": true, "color": "black", "size": 200, "opacity": 1},
          "encoding": {
            "x": {"field": "x", "type": "quantitative", "scale": {"domain": [-10, 10], "nice": false, "zero": false}, "axis": null},
            "y": {"field": "y", "type": "quantitative", "scale": {"domain": [-2, 2.091], "nice": false, "zero": false}, "axis": null}
          }
        },
        {
          "data": {"name": "downHead"},
          "mark": {"type": "point", "shape": "triangle-down", "filled": true, "color": "black", "size": 200, "opacity": 1},
          "encoding": {
            "x": {"field": "x", "type": "quantitative", "scale": {"domain": [-10, 10], "nice": false, "zero": false}, "axis": null},
            "y": {"field": "y", "type": "quantitative", "scale": {"domain": [-2, 2.091], "nice": false, "zero": false}, "axis": null}
          }
        },
        {
          "data": {"name": "labB"},
          "mark": {"type": "text", "font": "Liberation Serif", "fontSize": 30, "align": "center", "baseline": "alphabetic", "color": "black"},
          "encoding": {
            "x": {"field": "x", "type": "quantitative", "scale": {"domain": [-10, 10], "nice": false, "zero": false}, "axis": null},
            "y": {"field": "y", "type": "quantitative", "scale": {"domain": [-2, 2.091], "nice": false, "zero": false}, "axis": null},
            "text": {"field": "t"}
          }
        },
        {
          "data": {"name": "picB"},
          "mark": {"type": "text", "font": "Liberation Serif", "fontSize": 31.5, "align": "left", "baseline": "alphabetic", "color": "black"},
          "encoding": {
            "x": {"field": "x", "type": "quantitative", "scale": {"domain": [-10, 10], "nice": false, "zero": false}, "axis": null},
            "y": {"field": "y", "type": "quantitative", "scale": {"domain": [-2, 2.091], "nice": false, "zero": false}, "axis": null},
            "text": {"field": "t"}
          }
        },
        {
          "data": {"name": "gam"},
          "mark": {"type": "text", "font": "DejaVu Serif", "fontSize": 26, "fontWeight": "bold", "fontStyle": "italic", "align": "left", "baseline": "alphabetic", "color": "black"},
          "encoding": {
            "x": {"field": "x", "type": "quantitative", "scale": {"domain": [-10, 10], "nice": false, "zero": false}, "axis": null},
            "y": {"field": "y", "type": "quantitative", "scale": {"domain": [-2, 2.091], "nice": false, "zero": false}, "axis": null},
            "text": {"field": "t"}
          }
        },
        {
          "data": {"name": "zsub"},
          "mark": {"type": "text", "font": "DejaVu Serif", "fontSize": 14, "fontWeight": "bold", "fontStyle": "italic", "align": "left", "baseline": "alphabetic", "color": "black"},
          "encoding": {
            "x": {"field": "x", "type": "quantitative", "scale": {"domain": [-10, 10], "nice": false, "zero": false}, "axis": null},
            "y": {"field": "y", "type": "quantitative", "scale": {"domain": [-2, 2.091], "nice": false, "zero": false}, "axis": null},
            "text": {"field": "t"}
          }
        },
        {
          "data": {"name": "sup"},
          "mark": {"type": "text", "font": "DejaVu Serif", "fontSize": 21, "fontWeight": "bold", "fontStyle": "italic", "align": "left", "baseline": "alphabetic", "color": "black"},
          "encoding": {
            "x": {"field": "x", "type": "quantitative", "scale": {"domain": [-10, 10], "nice": false, "zero": false}, "axis": null},
            "y": {"field": "y", "type": "quantitative", "scale": {"domain": [-2, 2.091], "nice": false, "zero": false}, "axis": null},
            "text": {"field": "t"}
          }
        }
      ]
    },
    {
      "width": 367,
      "height": 95,
      "layer": [
        {
          "data": {"name": "legBox"},
          "mark": {"type": "rect", "filled": false, "color": "#e0e0e0", "strokeWidth": 4},
          "encoding": {
            "x": {"field": "x1", "type": "quantitative", "scale": {"domain": [0, 100], "nice": false, "zero": false}, "axis": null},
            "x2": {"field": "x2"},
            "y": {"field": "y1", "type": "quantitative", "scale": {"domain": [0, 100], "nice": false, "zero": false}, "axis": null},
            "y2": {"field": "y2"}
          }
        },
        {
          "data": {"name": "legDash"},
          "mark": {"type": "rule", "color": "black", "strokeWidth": 2, "strokeDash": [7, 6]},
          "encoding": {
            "x": {"field": "x1", "type": "quantitative", "scale": {"domain": [0, 100], "nice": false, "zero": false}, "axis": null},
            "x2": {"field": "x2"},
            "y": {"field": "y", "type": "quantitative", "scale": {"domain": [0, 100], "nice": false, "zero": false}, "axis": null}
          }
        },
        {
          "data": {"name": "legSolid"},
          "mark": {"type": "rule", "color": "black", "strokeWidth": 2.2},
          "encoding": {
            "x": {"field": "x1", "type": "quantitative", "scale": {"domain": [0, 100], "nice": false, "zero": false}, "axis": null},
            "x2": {"field": "x2"},
            "y": {"field": "y", "type": "quantitative", "scale": {"domain": [0, 100], "nice": false, "zero": false}, "axis": null}
          }
        },
        {
          "data": {"name": "legText"},
          "mark": {"type": "text", "font": "Liberation Serif", "fontSize": 29, "align": "left", "baseline": "alphabetic", "color": "black"},
          "encoding": {
            "x": {"field": "x", "type": "quantitative", "scale": {"domain": [0, 100], "nice": false, "zero": false}, "axis": null},
            "y": {"field": "y", "type": "quantitative", "scale": {"domain": [0, 100], "nice": false, "zero": false}, "axis": null},
            "text": {"field": "t"}
          }
        }
      ]
    }
  ]
}
